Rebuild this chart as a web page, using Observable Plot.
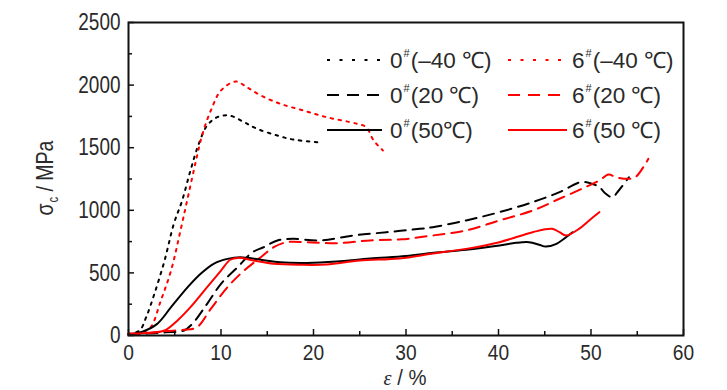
<!DOCTYPE html>
<html><head><meta charset="utf-8">
<script src="https://cdn.jsdelivr.net/npm/d3@7"></script>
<script src="https://cdn.jsdelivr.net/npm/@observablehq/plot@0.6"></script>
<style>body{margin:0;background:#fff;} svg{overflow:visible}</style>
</head><body><div id="chart"></div>
<script>
// tick values
const xTicks = [0, 10, 20, 30, 40, 50, 60];
const xMinor = [5, 15, 25, 35, 45, 55];
const yTicks = [0, 500, 1000, 1500, 2000, 2500];
const yMinor = [250, 750, 1250, 1750, 2250];

// series: strain (%) and stress (MPa)
const s0m40_x = [0, 1.2, 1.9, 2.8, 3.9, 4.9, 5.8, 6.7, 7.6, 8.5, 9.6, 10.9, 12.5, 13.9, 16.1, 17.8, 20.5];
const s0m40_y = [10, 40, 144, 333, 599, 892, 1078, 1318, 1531, 1677, 1744, 1757, 1704, 1651, 1597, 1565, 1544];
const s6m40_x = [0, 1.5, 2.4, 3.5, 4.6, 5.7, 6.5, 7.3, 8.0, 8.9, 10.0, 11.6, 12.8, 14.3, 16.4, 18.9, 21.4, 24.7, 25.7, 26.5, 27.5];
const s6m40_y = [10, 25, 66, 280, 519, 865, 1132, 1398, 1611, 1797, 1957, 2029, 1983, 1917, 1851, 1797, 1744, 1691, 1664, 1558, 1478];
const s020_x = [0, 2, 4, 6, 6.9, 8.5, 10, 11.8, 13.4, 14.6, 16.1, 17.8, 20.7, 24.3, 27.9, 31.5, 32.9, 36.5, 40.1, 43.7, 46.6, 48.9, 50.1, 50.9, 51.6, 52.3, 53.0, 54.1];
const s020_y = [5, 15, 25, 40, 93, 253, 413, 546, 665, 705, 759, 772, 759, 799, 825, 852, 865, 919, 985, 1065, 1145, 1225, 1212, 1185, 1132, 1105, 1158, 1264];
const s620_x = [0, 2, 4, 6, 7.4, 8.9, 10.7, 12.5, 14.3, 15.7, 17.1, 19.3, 22.5, 26.1, 29.5, 32.9, 36.5, 40.1, 43.7, 46.6, 49.4, 50.9, 51.9, 52.7, 54.1, 54.8, 56.2];
const s620_y = [5, 20, 35, 45, 66, 213, 386, 519, 625, 705, 745, 745, 737, 759, 768, 799, 839, 919, 998, 1092, 1185, 1238, 1286, 1264, 1252, 1264, 1411];
const s050_x = [0, 1.5, 3.1, 4.6, 6.4, 7.8, 9.2, 10.7, 12.1, 14.3, 16.4, 19.3, 22.5, 26.1, 30, 33, 36.5, 40.1, 41.9, 43.3, 44.4, 45.1, 46.2, 47.3, 48.0];
const s050_y = [10, 30, 93, 226, 386, 493, 573, 612, 625, 605, 585, 580, 591, 615, 635, 660, 684, 719, 740, 745, 725, 710, 730, 785, 825];
const s650_x = [0, 2, 3.9, 5.3, 6.7, 8.5, 10, 11.0, 11.8, 13.5, 15.7, 18.6, 21.4, 25.0, 29.3, 32.9, 36.5, 40.1, 43.7, 45.8, 46.6, 47.3, 48.7, 49.8, 50.9];
const s650_y = [15, 20, 40, 120, 226, 386, 519, 605, 620, 599, 573, 565, 567, 599, 615, 655, 692, 745, 825, 852, 825, 799, 852, 919, 985];

const seriesNames = ["0#(–40 ℃)", "6#(–40 ℃)", "0#(20 ℃)", "6#(20 ℃)", "0#(50℃)", "6#(50 ℃)"];

const FONT = "'Liberation Sans',Arial,sans-serif";
const TXT = "#2a2a2a";
const DOT = "2.5,5.5", DASH = "11,7";
const styles = [
  {stroke: "#000", dash: DOT}, {stroke: "#ff0000", dash: DOT},
  {stroke: "#000", dash: DASH}, {stroke: "#ff0000", dash: DASH},
  {stroke: "#000", dash: null}, {stroke: "#ff0000", dash: null}
];
const raw = [[s0m40_x, s0m40_y], [s6m40_x, s6m40_y], [s020_x, s020_y], [s620_x, s620_y], [s050_x, s050_y], [s650_x, s650_y]];
const series = raw.map(([xs, ys]) => xs.map((x, i) => ({x, y: ys[i]})));

const lineMarks = series.map((d, i) => Plot.line(d, {
  x: "x", y: "y", stroke: styles[i].stroke, strokeWidth: 2,
  strokeDasharray: styles[i].dash || undefined, curve: "catmull-rom"
}));

const chart = Plot.plot({
  width: 727, height: 390,
  marginLeft: 128, marginRight: 44, marginTop: 22, marginBottom: 55,
  style: {fontFamily: FONT, background: "#fff", color: TXT},
  x: {domain: [0, 60]},
  y: {domain: [0, 2500]},
  marks: [
    ...lineMarks,
    Plot.axisX({ticks: xTicks, tickSize: -6, tickFormat: () => "", label: null, stroke: "#111", strokeWidth: 1.5}),
    Plot.axisX({ticks: xMinor, tickSize: -4, tickFormat: () => "", label: null, stroke: "#111", strokeWidth: 1.5}),
    Plot.axisX({ticks: xTicks, tickSize: 0, tickPadding: 9, label: null, fontSize: 22, fill: TXT, className: "xlab"}),
    Plot.axisY({ticks: yTicks, tickSize: -6, tickFormat: () => "", label: null, stroke: "#111", strokeWidth: 1.5}),
    Plot.axisY({ticks: yMinor, tickSize: -4, tickFormat: () => "", label: null, stroke: "#111", strokeWidth: 1.5}),
    Plot.axisY({ticks: yTicks, tickSize: 0, tickPadding: 8, label: null, fontSize: 24, fill: TXT, tickFormat: d => String(d), className: "ylab"}),
    Plot.frame({stroke: "#111", strokeWidth: 2})
  ]
});
document.getElementById("chart").appendChild(chart);

// condensed look of the original typeface
function squeeze(el, k) {
  const w = el.getComputedTextLength();
  if (w > 0) {
    el.setAttribute("textLength", (w * k).toFixed(1));
    el.setAttribute("lengthAdjust", "spacingAndGlyphs");
  }
}
chart.querySelectorAll(".ylab text").forEach(el => squeeze(el, 0.79));
chart.querySelectorAll(".xlab text").forEach(el => squeeze(el, 0.87));

const svg = d3.select(chart);
// axis titles
const yt = svg.append("text")
  .attr("transform", "translate(53,178) rotate(-90)")
  .attr("text-anchor", "middle").attr("font-size", 24).attr("fill", TXT).style("font-family", FONT);
yt.append("tspan").text("σ");
yt.append("tspan").attr("font-size", 14).attr("dy", 5).attr("dx", 1).text("c");
yt.append("tspan").attr("dy", -5).text(" / MPa");
squeeze(yt.node(), 0.82);

const xt = svg.append("text")
  .attr("x", 405).attr("y", 385)
  .attr("text-anchor", "middle").attr("font-size", 22).attr("fill", TXT).style("font-family", FONT);
xt.append("tspan").attr("font-style", "italic").style("font-family", "'Liberation Serif',serif").text("ε");
xt.append("tspan").text(" / %");
squeeze(xt.node(), 0.92);

// legend
const cols = [{x1: 327, x2: 382, tx: 390}, {x1: 508, x2: 567, tx: 572}];
const rows = [60, 95, 130];
function part(x, y, size, str) {
  const t = svg.append("text").attr("x", x).attr("y", y).attr("font-size", size)
    .attr("text-anchor", "start").attr("fill", TXT).style("font-family", FONT).text(str);
  return t.node().getComputedTextLength();
}
seriesNames.forEach((name, i) => {
  const c = cols[i % 2], r = rows[Math.floor(i / 2)];
  svg.append("line").attr("x1", c.x1).attr("x2", c.x2).attr("y1", r).attr("y2", r)
    .attr("stroke", styles[i].stroke).attr("stroke-width", 2)
    .attr("stroke-dasharray", styles[i].dash === DOT ? "3,9.5" : styles[i].dash === DASH ? "12,8" : null);
  const [num, rest] = name.split("#");
  let x = c.tx;
  x += part(x, r + 8, 22.5, num) + 1;
  x += part(x, r - 3, 11, "#") + 1;
  part(x, r + 8, 22.5, rest);
});
</script>
</body></html>
